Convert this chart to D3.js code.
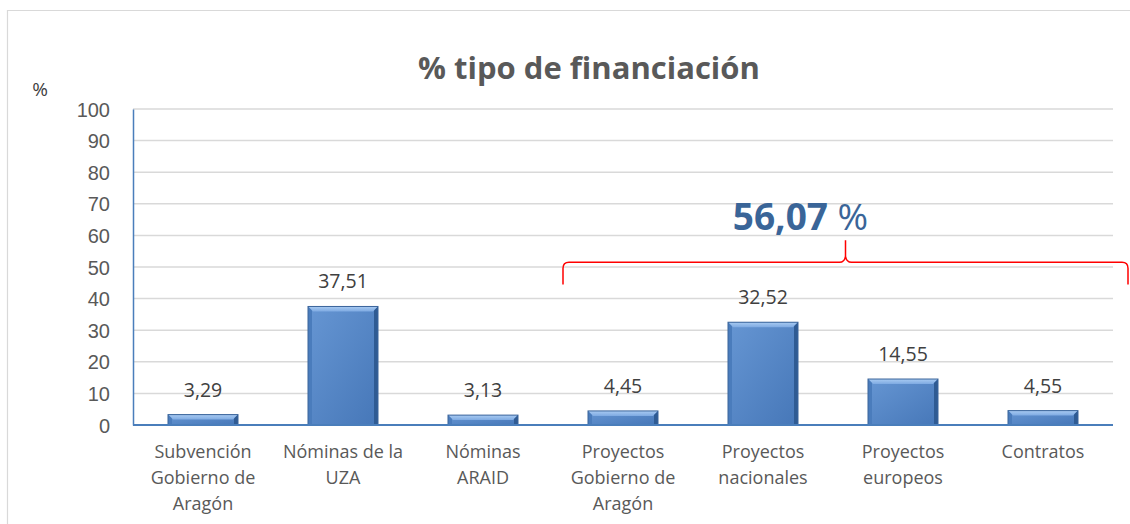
<!DOCTYPE html>
<html>
<head>
<meta charset="utf-8">
<script src="https://cdn.jsdelivr.net/npm/d3@7.9.0/dist/d3.min.js"></script>
<style>
  body { margin: 0; background: #fff; }
  svg { display: block; font-family: "Open Sans", "Noto Sans", sans-serif; }
</style>
</head>
<body>
<svg id="chart" width="1130" height="524"></svg>
<script>
// Chart data
const categories = [
  'Subvención\nGobierno de\nAragón',
  'Nóminas de la\nUZA',
  'Nóminas\nARAID',
  'Proyectos\nGobierno de\nAragón',
  'Proyectos\nnacionales',
  'Proyectos\neuropeos',
  'Contratos'
];
const values = [3.29, 37.51, 3.13, 4.45, 32.52, 14.55, 4.55];
const yTicks = [0, 10, 20, 30, 40, 50, 60, 70, 80, 90, 100];
const braceFrom = 'Proyectos\nGobierno de\nAragón';
const braceTo = 'Contratos';
const braceTotal = '56,07';

const svg = d3.select('#chart');
const margin = { top: 109, left: 133, right: 17, bottom: 99 };
const width = 1130 - margin.left - margin.right;
const height = 524 - margin.top - margin.bottom;

// Outer chart border (top and left only visible)
svg.append('path')
  .attr('d', 'M7.5,524 L7.5,10.5 L1130,10.5')
  .attr('fill', 'none')
  .attr('stroke', '#d9d9d9')
  .attr('stroke-width', 1.2);

const x = d3.scaleBand().domain(categories).range([0, width]).paddingInner(0.5).paddingOuter(0.25);
const y = d3.scaleLinear().domain([0, 100]).range([height, 0]);

const g = svg.append('g').attr('transform', `translate(${margin.left},${margin.top})`);

// Gradients
const defs = svg.append('defs');
const body = defs.append('linearGradient').attr('id', 'barBody').attr('x1', 0).attr('x2', 1).attr('y1', 0).attr('y2', 1);
body.append('stop').attr('offset', '0%').attr('stop-color', '#6696d3');
body.append('stop').attr('offset', '100%').attr('stop-color', '#4677b8');
const topG = defs.append('linearGradient').attr('id', 'barTop').attr('x1', 0).attr('x2', 0).attr('y1', 0).attr('y2', 1);
topG.append('stop').attr('offset', '0%').attr('stop-color', '#a9cbf2');
topG.append('stop').attr('offset', '100%').attr('stop-color', '#7eaae2');

// Gridlines
g.append('g')
  .selectAll('line')
  .data(yTicks.filter(d => d > 0))
  .join('line')
  .attr('x1', 0)
  .attr('x2', width)
  .attr('y1', d => y(d))
  .attr('y2', d => y(d))
  .attr('stroke', '#d9d9d9')
  .attr('stroke-width', 1.5);

// Y axis
const yAxis = g.append('g').call(d3.axisLeft(y).tickValues(yTicks).tickSize(0).tickPadding(23));
yAxis.select('.domain').attr('stroke', '#4a7ebb').attr('stroke-width', 1.5);
yAxis.selectAll('text').attr('font-size', 20).attr('fill', '#595959').attr('dy', '0.35em');

svg.append('text')
  .attr('x', 40)
  .attr('y', 96)
  .attr('text-anchor', 'middle')
  .attr('font-size', 19)
  .attr('fill', '#404040')
  .text('%');

// Bars with bevel
const bev = 5;
const bars = g.append('g')
  .selectAll('g')
  .data(categories.map((c, i) => ({ c, v: values[i] })))
  .join('g');

bars.append('rect')
  .attr('x', d => x(d.c))
  .attr('y', d => y(d.v))
  .attr('width', x.bandwidth())
  .attr('height', d => y(0) - y(d.v))
  .attr('fill', 'url(#barBody)');

// top bevel
bars.append('path')
  .attr('d', d => {
    const x0 = x(d.c), x1 = x0 + x.bandwidth(), t = y(d.v);
    const b = Math.min(bev, (y(0) - t) / 2);
    return `M${x0},${t}L${x1},${t}L${x1 - b},${t + b}L${x0 + b},${t + b}Z`;
  })
  .attr('fill', 'url(#barTop)');

// side bevels
bars.append('path')
  .attr('d', d => {
    const x0 = x(d.c), t = y(d.v);
    const b = Math.min(bev - 1, (y(0) - t) / 2);
    return `M${x0},${t}L${x0 + b},${t + b}L${x0 + b},${y(0)}L${x0},${y(0)}Z`;
  })
  .attr('fill', '#4a7cbc');
bars.append('path')
  .attr('d', d => {
    const x1 = x(d.c) + x.bandwidth(), t = y(d.v);
    const b = Math.min(bev - 1, (y(0) - t) / 2);
    return `M${x1},${t}L${x1 - b},${t + b}L${x1 - b},${y(0)}L${x1},${y(0)}Z`;
  })
  .attr('fill', '#2f5b93');

bars.append('rect')
  .attr('x', d => x(d.c))
  .attr('y', d => y(d.v))
  .attr('width', x.bandwidth())
  .attr('height', d => y(0) - y(d.v))
  .attr('fill', 'none')
  .attr('stroke', '#3a649a')
  .attr('stroke-width', 1);

// Value labels
bars.append('text')
  .attr('x', d => x(d.c) + x.bandwidth() / 2)
  .attr('y', d => y(d.v) - 18)
  .attr('text-anchor', 'middle')
  .attr('font-size', 19.5)
  .attr('fill', '#404040')
  .text(d => d3.format('.2f')(d.v).replace('.', ','));

// X axis line
g.append('line')
  .attr('x1', 0).attr('x2', width)
  .attr('y1', y(0)).attr('y2', y(0))
  .attr('stroke', '#4a7ebb')
  .attr('stroke-width', 2);

// Category labels
const catLabels = g.append('g')
  .selectAll('text')
  .data(categories)
  .join('text')
  .attr('x', d => x(d) + x.bandwidth() / 2)
  .attr('y', height + 33)
  .attr('text-anchor', 'middle')
  .attr('font-size', 18)
  .attr('fill', '#595959');
catLabels.selectAll('tspan')
  .data(d => d.split('\n'))
  .join('tspan')
  .attr('x', function () { return d3.select(this.parentNode).attr('x'); })
  .attr('dy', (d, i) => (i === 0 ? 0 : 26))
  .text(d => d);

// Title
svg.append('text')
  .attr('x', 589)
  .attr('y', 79)
  .attr('text-anchor', 'middle')
  .attr('font-size', 31)
  .attr('font-weight', 'bold')
  .attr('fill', '#595959')
  .text('% tipo de financiación');

// Brace annotation
const step = x.step();
const bx0 = x(braceFrom) - (step - x.bandwidth()) / 2 + 10;
const bx1 = x(braceTo) + x.bandwidth() + (step - x.bandwidth()) / 2 + 15;
const bmid = (bx0 + bx1) / 2;
const bLine = y(51.5), bEnd = y(44.5), bPeak = y(58.5);
g.append('path')
  .attr('d', `M${bx0},${bEnd} L${bx0},${bLine + 6} Q${bx0},${bLine} ${bx0 + 6},${bLine}
    L${bmid - 6},${bLine} Q${bmid - 1},${bLine} ${bmid},${bLine - 6} L${bmid},${bPeak}
    M${bmid},${bLine - 6} Q${bmid + 1},${bLine} ${bmid + 6},${bLine}
    L${bx1 - 6},${bLine} Q${bx1},${bLine} ${bx1},${bLine + 6} L${bx1},${bEnd}`)
  .attr('fill', 'none')
  .attr('stroke', '#ff0000')
  .attr('stroke-width', 1.5);

const total = g.append('text')
  .attr('x', bmid - 45)
  .attr('y', y(61.6))
  .attr('text-anchor', 'middle')
  .attr('font-size', 37)
  .attr('fill', '#3a6598');
total.append('tspan').attr('font-weight', 'bold').text(braceTotal);
total.append('tspan').text(' %');
</script>
</body>
</html>
